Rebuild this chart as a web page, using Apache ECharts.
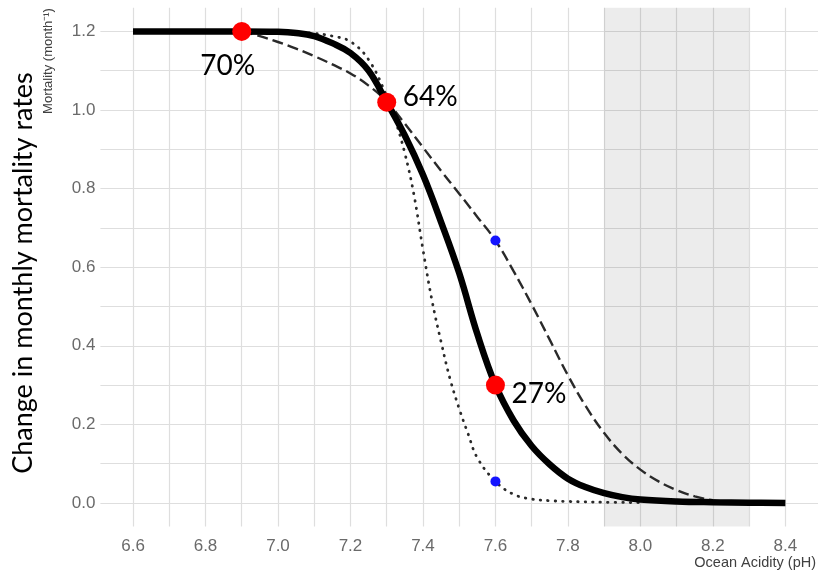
<!DOCTYPE html>
<html>
<head>
<meta charset="utf-8">
<script src="https://cdn.jsdelivr.net/npm/echarts@6/dist/echarts.min.js"></script>
<style>
  html, body { margin: 0; padding: 0; background: #ffffff; }
  #chart { width: 821px; height: 576px; }
</style>
</head>
<body>
<div id="chart"></div>
<script>
// Central mortality response (thick solid curve)
const solidPh   = [6.6, 6.7, 6.8, 6.9, 7.0, 7.05, 7.1, 7.15, 7.2, 7.25, 7.3, 7.35, 7.4, 7.45, 7.5, 7.55, 7.6, 7.65, 7.7, 7.75, 7.8, 7.85, 7.9, 7.95, 8.0, 8.1, 8.2, 8.3, 8.4];
const solidRate = [1.2, 1.2, 1.2, 1.2, 1.199, 1.196, 1.188, 1.17, 1.145, 1.10, 1.02, 0.935, 0.835, 0.715, 0.585, 0.43, 0.30, 0.21, 0.145, 0.098, 0.062, 0.04, 0.025, 0.015, 0.009, 0.004, 0.002, 0.001, 0.0];

// Gradual response (dashed curve)
const dashedPh   = [6.9, 6.95, 7.0, 7.05, 7.1, 7.15, 7.2, 7.25, 7.3, 7.35, 7.4, 7.45, 7.5, 7.55, 7.6, 7.65, 7.7, 7.75, 7.8, 7.85, 7.9, 7.95, 8.0, 8.05, 8.1, 8.15, 8.2, 8.25];
const dashedRate = [1.2, 1.188, 1.173, 1.156, 1.137, 1.116, 1.093, 1.062, 1.022, 0.965, 0.905, 0.845, 0.787, 0.728, 0.668, 0.59, 0.505, 0.415, 0.325, 0.245, 0.178, 0.125, 0.085, 0.055, 0.033, 0.017, 0.007, 0.002];

// Abrupt response (dotted curve)
const dottedPh   = [6.9, 7.0, 7.05, 7.1, 7.15, 7.2, 7.25, 7.3, 7.325, 7.35, 7.375, 7.4, 7.425, 7.45, 7.475, 7.5, 7.525, 7.55, 7.6, 7.65, 7.7, 7.75, 7.8, 7.9, 8.0];
const dottedRate = [1.2, 1.2, 1.198, 1.195, 1.188, 1.174, 1.128, 1.035, 0.97, 0.89, 0.785, 0.645, 0.515, 0.41, 0.315, 0.24, 0.175, 0.115, 0.055, 0.022, 0.01, 0.006, 0.004, 0.002, 0.001];

// Highlighted points on the central curve and their annotations
const markerPh     = [6.9, 7.3, 7.6];
const markerRate   = [1.2, 1.02, 0.30];
const markerLabels = ['70%', '64%', '27%'];

// Points on the alternative curves at pH 7.6
const altPh   = [7.6, 7.6];
const altRate = [0.668, 0.055];

// Present-day pH band
const bandPh = [7.9, 8.3];

// Axis ticks and grid lines
const xLabelTicks = [6.6, 6.8, 7.0, 7.2, 7.4, 7.6, 7.8, 8.0, 8.2, 8.4];
const xGridTicks  = [6.6, 6.7, 6.8, 6.9, 7.0, 7.1, 7.2, 7.3, 7.4, 7.5, 7.6, 7.7, 7.8, 7.9, 8.0, 8.1, 8.2, 8.3, 8.4];
const yLabelTicks = [0.0, 0.2, 0.4, 0.6, 0.8, 1.0, 1.2];
const yGridTicks  = [0.0, 0.1, 0.2, 0.3, 0.4, 0.5, 0.6, 0.7, 0.8, 0.9, 1.0, 1.1, 1.2];

const pairs = (xs, ys) => xs.map((x, i) => [x, ys[i]]);

// Label placement for each highlighted point
const markerLabelStyle = [
  { align: 'center', offset: [-14, 35] },
  { align: 'left',   offset: [16, -5] },
  { align: 'left',   offset: [16, 9] }
];

const chart = echarts.init(document.getElementById('chart'), null, { renderer: 'canvas' });

const gridColor = '#dedede';
const tickText = { color: '#6a6a6a', fontSize: 17, fontFamily: 'Liberation Sans, Arial, sans-serif' };

chart.setOption({
  animation: false,
  backgroundColor: '#ffffff',
  grid: { left: 100.4, right: 3, top: 7.8, bottom: 49.4, containLabel: false },
  xAxis: {
    type: 'value',
    min: 6.51,
    max: 8.49,
    axisLine: { show: false },
    axisTick: { show: false, customValues: xGridTicks },
    axisLabel: {
      customValues: xLabelTicks,
      formatter: v => v.toFixed(1),
      margin: 11,
      ...tickText
    },
    splitLine: { show: true, lineStyle: { color: gridColor, width: 1.2 } }
  },
  yAxis: {
    type: 'value',
    min: -0.06,
    max: 1.26,
    axisLine: { show: false },
    axisTick: { show: false, customValues: yGridTicks },
    axisLabel: {
      customValues: yLabelTicks,
      formatter: v => v.toFixed(1),
      margin: 5,
      ...tickText
    },
    splitLine: { show: true, lineStyle: { color: gridColor, width: 1.2 } }
  },
  graphic: [
    {
      type: 'text', x: 23, y: 273, rotation: Math.PI / 2,
      style: {
        text: 'Change in monthly mortality rates',
        fontSize: 27, fontFamily: 'Lato, sans-serif',
        fill: '#000000', align: 'center', verticalAlign: 'middle'
      }
    },
    {
      type: 'text', x: 48, y: 61, rotation: Math.PI / 2,
      style: {
        text: 'Mortality (month\u207B\u00B9)',
        fontSize: 13, fontFamily: 'Liberation Sans, Arial, sans-serif',
        fill: '#404040', align: 'center', verticalAlign: 'middle'
      }
    },
    {
      type: 'text', x: 816, y: 563,
      style: {
        text: 'Ocean Acidity (pH)',
        fontSize: 14.5, fontFamily: 'Liberation Sans, Arial, sans-serif',
        fill: '#404040', align: 'right', verticalAlign: 'middle'
      }
    }
  ],
  series: [
    {
      name: 'gradual',
      type: 'line',
      data: pairs(dashedPh, dashedRate),
      smooth: 0.4,
      showSymbol: false,
      lineStyle: { color: '#2a2a2a', width: 2.4, type: [11, 5] },
      markArea: {
        silent: true,
        itemStyle: { color: 'rgba(0,0,0,0.075)' },
        data: [[{ xAxis: bandPh[0] }, { xAxis: bandPh[1] }]]
      },
      z: 2
    },
    {
      name: 'abrupt',
      type: 'line',
      data: pairs(dottedPh, dottedRate),
      smooth: 0.4,
      showSymbol: false,
      lineStyle: { color: '#2a2a2a', width: 2.8, type: [0.5, 7], cap: 'round' },
      z: 3
    },
    {
      name: 'central',
      type: 'line',
      data: pairs(solidPh, solidRate),
      smooth: 0.4,
      showSymbol: false,
      lineStyle: { color: '#000000', width: 6.5 },
      z: 4
    },
    {
      name: 'alternatives',
      type: 'scatter',
      data: pairs(altPh, altRate),
      symbolSize: 10,
      itemStyle: { color: '#1414ff', opacity: 1 },
      z: 5
    },
    {
      name: 'highlights',
      type: 'scatter',
      data: markerPh.map((x, i) => ({
        value: [x, markerRate[i]],
        label: {
          show: true,
          formatter: markerLabels[i],
          position: 'inside',
          align: markerLabelStyle[i].align,
          verticalAlign: 'middle',
          offset: markerLabelStyle[i].offset,
          color: '#000000',
          opacity: 1,
          fontSize: 28,
          fontFamily: 'Lato, sans-serif'
        }
      })),
      symbolSize: 19,
      itemStyle: { color: '#ff0000', opacity: 1 },
      z: 6
    }
  ]
});
</script>
</body>
</html>
